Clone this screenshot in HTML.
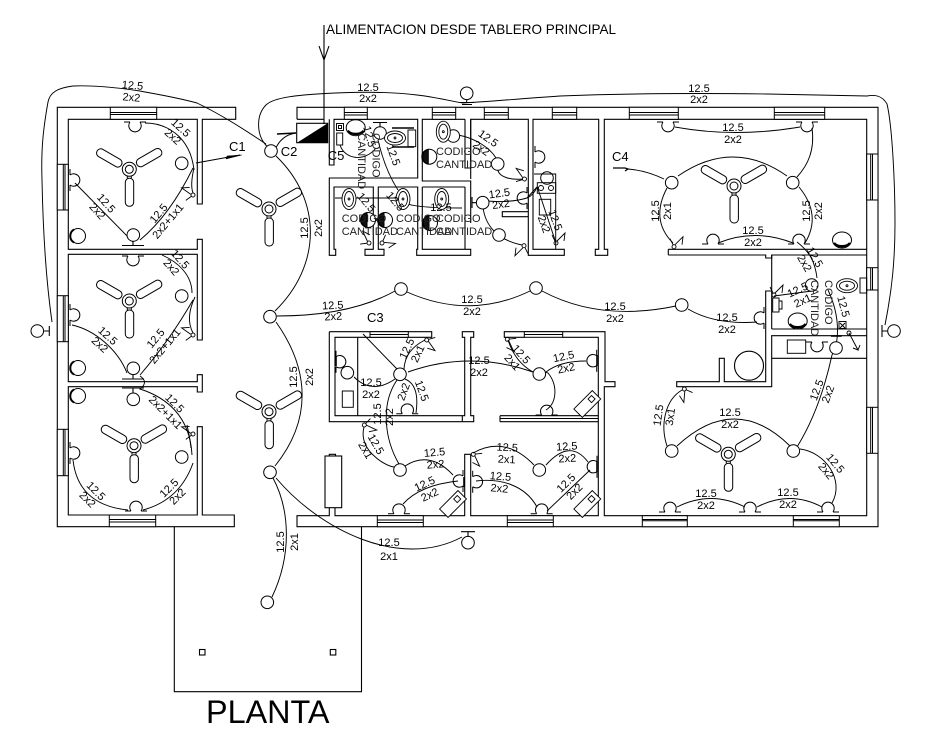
<!DOCTYPE html>
<html><head><meta charset="utf-8"><style>
html,body{margin:0;padding:0;background:#fff}
svg{display:block}
text{font-family:"Liberation Sans",sans-serif;fill:#000}
.l text{font-size:11px;text-anchor:middle}
.c{font-size:11px;fill:#222}
.w{fill:none;stroke:#000;stroke-width:1.1}
.n{fill:none;stroke:#000;stroke-width:.95}
</style></head><body>
<svg width="931" height="744" viewBox="0 0 931 744" xmlns="http://www.w3.org/2000/svg">
<defs>
<g id="fan" fill="#fff" stroke="#000" stroke-width="1">
<circle r="7"/><circle r="4"/>
<rect x="-4" y="9" width="8.4" height="28" rx="4"/><path d="M-2 7V9M2 7V9"/>
<g transform="rotate(120)"><rect x="-4" y="9" width="8.4" height="28" rx="4"/></g>
<g transform="rotate(-120)"><rect x="-4" y="9" width="8.4" height="28" rx="4"/></g>
</g>
<circle id="lamp" r="6.3" fill="#fff" stroke="#000" stroke-width="1"/>
<path id="out" d="M-11 0H-5M5 0H11M-5 0A6.2 6.2 0 1 0 5 0" fill="none" stroke="#000" stroke-width="1"/>
<g id="sw" fill="none" stroke="#000" stroke-width=".9"><circle r="2"/><path d="M1 -2L9 -10L8 -2M-1 -2L-4 -8"/></g>
<g id="tlt" fill="#fff" stroke="#000"><ellipse rx="9.5" ry="8"/><path d="M-8 3A9 6 0 0 0 8 3" stroke-width="2.4" fill="none"/></g>
<g id="blk" fill="#fff" stroke="#000"><circle r="7.5"/><path d="M-4 -6.5A7.5 7.5 0 0 0 -4 6.5" stroke-width="2" fill="none"/></g>
<g id="blk2" fill="#fff" stroke="#000"><circle r="7.5"/><path d="M-1 -7.3A7.5 7.5 0 0 0 -1 7.3Z" fill="#111"/></g>
<g id="wc" fill="#fff" stroke="#000" stroke-width=".9"><ellipse rx="7" ry="10.5"/><ellipse rx="4.5" ry="7.5"/><circle r="1"/></g>
<g id="app" fill="#fff" stroke="#000" stroke-width=".9"><rect x="-13" y="-6" width="26" height="12"/><rect x="4" y="-3" width="5" height="5"/></g>
</defs>

<text x="326" y="34" font-size="13.6" textLength="290" lengthAdjust="spacingAndGlyphs" fill="#222">ALIMENTACION DESDE TABLERO PRINCIPAL</text>
<path class="w" d="M324 25V124M319 46L324 60L329 46"/>

<!-- left block walls -->
<path class="w" d="M57.3 107.3H235.7V119.3H202.3V204H197.3V119.3H68.3V249.3H197.3V239.3H202.3V340H197.3V254.3H68.3V381.7H197.3V374.7H202.3V392H197.3V386.7H68.3V515H197.3V426.7H202.3V515H234.3V526.7H57.3Z"/>
<!-- right block walls -->
<path class="w" d="M297 119.3V107.3H878V526.7H297V515.7H329.3V507.7M335 507.7V515.7H464.7V454.3H470.7V515.7H598.3V337.3H562.7M524.3 337.3H504.3V331.7H605V381.7H615V386.7H604.3V515.7H866.7V119.3H604.3V249.3H607.7V255.3H595.3V249.3H598.7V119.3H533V249.3H564.3V255.3H528.3V119.3H470.7V179M465 119.3H422.3V181H470.7V223M465 187V240M422.3 187H465M422.3 187V249.3H465V240M465 249.3H470.7V255.3H416.7V249.3H417.7V187H378.3V249.3H384V255.3H365V249.3H373.3V187H334V249.3H335.7V255.3H329.3V178H417.7V119.3H334V165H329.3V119.3M297 119.3H324M502.3 211.7H528.3V216.7H502.3Z"/>
<path class="w" d="M470.7 119.3V168H465V119.3"/>
<!-- big room partition -->
<path class="w" d="M668.3 249.3H866.7M668.3 255H765.7V258H771.7V255H866.7M668.3 249.3V255"/>
<path class="w" d="M771.7 255V291H765.7V381.7H724.3V358.3H719.3V381.7H676.7V386.7H771.7V335.7H866.7M771.7 329H866.7M771.7 358.3H866.7M771.7 291V329"/>
<!-- C3 room -->
<path class="w" d="M329.3 331.7H431.7V337.3H335V415.7H464.7V337.3H462.3V331.7H473.7V337.3H470.7V415.7H473.7V421.7H462.3V415.7M462.3 421.7H329.3V331.7M357.7 337.3V415.7"/>
<path class="w" d="M500 415.7H598.3M500 418.5H598.3M500 421.7H598.3M500 415.7V421.7"/>
<!-- planta rect -->
<path class="w" d="M174.3 526.7V691.7H361.5V526.7"/>
<rect class="w" x="199.5" y="649.5" width="5.5" height="5.5"/><rect class="w" x="330.3" y="649.5" width="5.5" height="5.5"/>
<!-- appliance -->
<rect class="w" x="325" y="456" width="16.7" height="51.7"/><path class="w" d="M329.3 456V454.3H335.5V456"/>

<!-- windows -->
<g fill="#fff" stroke="#000" stroke-width="1">
<g><rect x="110.3" y="107.3" width="46.4" height="12"/><path d="M110.3 112.5H156.7M110.3 114.5H156.7"/></g>
<rect x="344.3" y="107.3" width="23" height="12"/><path d="M344.3 112.5H367.3M344.3 115H367.3"/>
<rect x="432.3" y="107.3" width="23.4" height="12"/><path d="M432.3 112.5H455.7M432.3 115H455.7"/>
<rect x="484.3" y="107.3" width="24" height="12"/><path d="M484.3 112.5H508.3M484.3 115H508.3"/>
<rect x="552.3" y="107.3" width="24.4" height="12"/><path d="M552.3 112.5H576.7M552.3 115H576.7"/>
<rect x="629.3" y="107.3" width="49" height="12"/><path d="M629.3 112.5H678.3M629.3 115H678.3"/>
<rect x="774.3" y="107.3" width="50.4" height="12"/><path d="M774.3 112.5H824.7M774.3 115H824.7"/>
<rect x="57.3" y="164.3" width="11" height="45.7"/><path d="M63.3 164.3V210M65 164.3V210"/>
<rect x="57.3" y="295.7" width="11" height="46"/><path d="M63.3 295.7V341.7M65 295.7V341.7"/>
<rect x="57.3" y="429.3" width="11" height="46.4"/><path d="M63.3 429.3V475.7M65 429.3V475.7"/>
<rect x="109.3" y="515" width="46.4" height="11.7"/><path d="M109.3 519.5H155.7M109.3 522H155.7"/>
<rect x="377.3" y="515.7" width="46" height="11"/><path d="M377.3 520H423.3M377.3 522.5H423.3"/>
<rect x="507.3" y="515.7" width="46" height="11"/><path d="M507.3 520H553.3M507.3 522.5H553.3"/>
<rect x="642.3" y="515.7" width="45" height="11"/><path d="M642.3 519.5H687.3M642.3 520.8H687.3"/>
<rect x="793.3" y="515.7" width="46" height="11"/><path d="M793.3 519.5H839.3M793.3 520.8H839.3"/>
<rect x="866.7" y="154" width="11.3" height="46"/><path d="M870.7 154V200M872.5 154V200"/>
<rect x="866.7" y="267.7" width="11.3" height="22.3"/><path d="M870.7 267.7V290M872.5 267.7V290"/>
<rect x="866.7" y="407.3" width="11.3" height="46"/><path d="M870.7 407.3V453.3M872.5 407.3V453.3"/>
<rect x="370" y="331.7" width="38.3" height="5.6"/><path d="M370 334.5H408.3"/>
<rect x="524.3" y="331.7" width="38.4" height="5.6"/><path d="M524.3 334.5H562.7"/>
</g>

<!-- panel -->
<rect class="w" x="296.7" y="123.3" width="31" height="19.4"/>
<path d="M297 142.7L327.7 123.3V142.7Z" fill="#000"/>

<!-- wires -->
<g class="n">
<path d="M266.7 146C256 135 256 115 266 105 274 97 300 95 325 93.5 350 92 383 91 417 95 435 97 450 101 463 103 483 102 517 99 560 96 610 94 690 93 767 94L867 96C877 94 883 97 887 104 892 125 895 180 895 223 895 260 892 290 885 325"/>
<path d="M266 144C245 130 222 115 197 103 175 97 155 94 140 91 120 88 95 85 73 86 58 88 50 92 48 102 43 130 41 150 42 180 43 230 46 280 52 322"/>
<path d="M275 150C277 145 282 135 296 133"/><path d="M277 134L296 133" stroke-width="1.4"/>
<path d="M196 163L240 155"/>
<path d="M145 123C165 123 190 135 194 170"/><path d="M194 168Q190 185 193 193"/>
<path d="M75 183L133 242"/><path d="M140 240Q170 215 193 168"/>
<path d="M162 255C178 262 192 275 192 293"/><path d="M195 297Q185 318 193 333"/>
<path d="M72 325C95 330 118 350 127 373"/><path d="M140 375Q170 340 193 300"/>
<path d="M140 376Q149 382 140 389C165 397 190 415 192 455"/><path d="M187 425Q190 438 191 448"/>
<path d="M73 460Q78 505 128 510"/><path d="M143 510Q180 500 193 463"/>
<path d="M276 156C322 200 322 265 275 311"/>
<path d="M276 322C310 370 312 420 275 466"/>
<path d="M273 478C290 510 292 555 272 597"/>
<path d="M276 478C320 530 400 570 462 537"/>
<path d="M277 316Q350 316 395 291"/>
<path d="M407 292Q470 320 530 291"/>
<path d="M542 291Q600 322 676 306"/>
<path d="M688 309Q715 325 757 322"/>
<path d="M627 169Q645 170 664 179"/>
<path d="M678 176Q733 138 787 176"/>
<path d="M667 188Q650 220 673 243"/>
<path d="M799 187Q822 215 805 243"/>
<path d="M675 127Q735 138 800 127"/>
<path d="M812 128C815 150 808 165 797 177"/>
<path d="M718 243Q755 228 793 243"/>
<path d="M797 242C810 252 815 262 817 278"/>
<path d="M828 290C842 320 838 345 832 355Q820 410 797 447"/>
<path d="M774 296L812 291"/>
<path d="M667 446C660 425 665 400 682 390"/>
<path d="M677 446Q735 392 790 446"/>
<path d="M800 449C825 452 845 480 832 503"/>
<path d="M677 507Q711 490 745 507"/>
<path d="M757 507Q790 490 822 507"/>
<!-- C3 -->
<path d="M363 334L397 369"/>
<path d="M404 369Q405 350 425 340"/>
<path d="M405 379Q420 385 416 413"/>
<path d="M354 377Q372 395 395 379"/>
<path d="M397 380C380 405 385 440 399 464"/>
<path d="M408 372Q470 350 533 372"/>
<path d="M364 427C358 450 385 466 394 467"/>
<path d="M405 466Q430 450 453 475"/>
<path d="M403 504Q420 485 458 481"/>
<path d="M508 340Q515 362 533 372"/>
<path d="M546 372Q545 372 548 373C558 385 557 403 546 410"/>
<path d="M546 372Q560 361 586 361"/>
<path d="M473 453Q505 435 534 465"/>
<path d="M546 465Q570 438 588 462"/>
<path d="M476 481C500 478 525 485 537 507"/>
<path d="M547 511L590 470"/>
<!-- baths -->
<path d="M378 140Q385 170 398 190"/>
<path d="M335 198H396"/>
<path d="M405 203Q415 208 462 208"/>
<path d="M458 135C475 138 490 148 496 158"/>
<path d="M497.7 170C500 178 512 180 523 179"/>
<path d="M487 201Q510 203 527 198C532 196 535 192 537 187"/>
<path d="M483 207C485 225 497 240 522 245"/>
<path d="M537.3 187L556 243"/>
<path d="M527 198L537 187"/>
</g>

<!-- C labels and arrows -->
<text x="229" y="151" font-size="13">C1</text>
<text x="280.7" y="156" font-size="13">C2</text>
<text x="327.7" y="160" font-size="13">C5</text>
<text x="612" y="161" font-size="13">C4</text>
<text x="367" y="322" font-size="13">C3</text>
<path d="M226 159L241.7 155L227 156Z" fill="#000" stroke="#000" stroke-width=".5"/>
<path d="M613 168H625L628 169L625 171" fill="none" stroke="#000" stroke-width="1.3"/>

<!-- fans -->
<use href="#fan" transform="translate(129.3 169.3)"/>
<use href="#fan" transform="translate(129.3 301)"/>
<use href="#fan" transform="translate(134 445.7)"/>
<use href="#fan" transform="translate(269 209)"/>
<use href="#fan" transform="translate(269 411.7)"/>
<use href="#fan" transform="translate(734 186)"/>
<use href="#fan" transform="translate(728.3 454.3)"/>

<!-- lamps -->
<g>
<use href="#lamp" x="181.7" y="163.3"/><use href="#lamp" x="133.3" y="235"/><use href="#lamp" x="181.7" y="296"/><use href="#lamp" x="133.3" y="368.3"/><use href="#lamp" x="181.7" y="457"/><use href="#lamp" x="133.3" y="399.3"/>
<use href="#lamp" x="271" y="151"/><use href="#lamp" x="270" y="316.7"/><use href="#lamp" x="270" y="472.3"/><use href="#lamp" x="267.3" y="602.3"/>
<use href="#lamp" x="401" y="289"/><use href="#lamp" x="536" y="288"/><use href="#lamp" x="681.7" y="305"/>
<use href="#lamp" x="671.7" y="182.7"/><use href="#lamp" x="792.7" y="182.7"/><use href="#lamp" x="671.7" y="451"/><use href="#lamp" x="793.3" y="451"/>
<use href="#lamp" x="400" y="374.3"/><use href="#lamp" x="347.3" y="372.7"/><use href="#lamp" x="400" y="470"/><use href="#lamp" x="539.3" y="374"/><use href="#lamp" x="539.3" y="470"/>
<use href="#lamp" x="37.3" y="331"/><use href="#lamp" x="894" y="331"/><use href="#lamp" x="468" y="542.7"/><use href="#lamp" x="466.7" y="93.3"/>
<use href="#lamp" x="453.3" y="136"/><use href="#lamp" x="497.7" y="164"/><use href="#lamp" x="482.7" y="202.7"/><use href="#lamp" x="499" y="235"/>
<use href="#lamp" x="547" y="178"/><use href="#lamp" x="380" y="133"/><use href="#lamp" x="811.7" y="285"/><use href="#lamp" x="836" y="348"/>
</g>
<g class="w">
<path d="M133 241.5V245.5M122 245.5H144"/>
<path d="M133 374.8V379M122 379H144"/>
<path d="M133 392.8V388M122 388H144"/>
<path d="M43.8 331H49.3M49.3 326V336"/>
<path d="M887.5 331H882M882 325V337"/>
<path d="M468 536V531.7M461 531.7H475"/>
<path d="M466.7 99.8V102.5M460 102.5H474M462 104.5H472" stroke-width="1"/>
<path d="M380 126.5V122.5M373 122.5H387"/>
<path d="M476.2 202.7H472M472 197V208"/>
<path d="M597 461V472M597 355V366" stroke-width="1.6"/>
<path d="M336 356V366M464 477V487" stroke-width="1.6"/>
</g>

<!-- outlets -->
<g>
<use href="#out" transform="translate(135 122)"/>
<use href="#out" transform="translate(70 180) rotate(-90)"/>
<use href="#out" transform="translate(133 256)"/>
<use href="#out" transform="translate(70 315) rotate(-90)"/>
<use href="#out" transform="translate(70 453) rotate(-90)"/>
<use href="#out" transform="translate(136 511) rotate(180)"/>
<use href="#out" transform="translate(668 122)"/>
<use href="#out" transform="translate(807 122)"/>
<use href="#out" transform="translate(713 244) rotate(180)"/>
<use href="#out" transform="translate(799 244) rotate(180)"/>
<use href="#out" transform="translate(764 318) rotate(90)"/>
<use href="#out" transform="translate(670 512) rotate(180)"/>
<use href="#out" transform="translate(750 512) rotate(180)"/>
<use href="#out" transform="translate(828 512) rotate(180)"/>
<use href="#out" transform="translate(336 361.7) rotate(-90)"/>
<use href="#out" transform="translate(407.3 413.7) rotate(180)"/>
<use href="#out" transform="translate(399 513.7) rotate(180)"/>
<use href="#out" transform="translate(541.7 513.7) rotate(180)"/>
<use href="#out" transform="translate(546.7 415) rotate(180)"/>
<use href="#out" transform="translate(596.7 360.7) rotate(90)"/>
<use href="#out" transform="translate(472.7 481.7) rotate(-90)"/>
<use href="#out" transform="translate(463 481) rotate(90)"/>
<use href="#out" transform="translate(597 466.7) rotate(90)"/>
<use href="#out" transform="translate(527 198) rotate(90)"/>
<use href="#out" transform="translate(535 157) rotate(-90)"/>
<use href="#out" transform="translate(817 342)"/>
</g>

<!-- switches -->
<g>
<use href="#sw" transform="translate(193 195) rotate(-100)"/>
<use href="#sw" transform="translate(193 335) rotate(-100)"/>
<use href="#sw" transform="translate(193 434) rotate(-100)"/>
<use href="#sw" transform="translate(674 246.7)"/>
<use href="#sw" transform="translate(684.3 389) rotate(140)"/>
<use href="#sw" transform="translate(426.7 340) rotate(100)"/>
<use href="#sw" transform="translate(364.3 425) rotate(70)"/>
<use href="#sw" transform="translate(507.3 339.3) rotate(110)"/>
<use href="#sw" transform="translate(473.3 454.3) rotate(110)"/>
<use href="#sw" transform="translate(774 295)"/>
<use href="#sw" transform="translate(524.5 179) rotate(-80)"/>
<use href="#sw" transform="translate(524 245.7) rotate(180)"/>
<use href="#sw" transform="translate(369 243) rotate(-70)"/>
<use href="#sw" transform="translate(382 243) rotate(50)"/>
<use href="#sw" transform="translate(556 243)"/>
<path class="n" d="M849 333L858 350L853 348M858 350L860 345"/>
<circle class="n" cx="849" cy="333" r="2"/>
</g>

<!-- appliances -->
<use href="#app" transform="translate(453 504) rotate(-45)"/>
<use href="#app" transform="translate(587.3 404) rotate(-45)"/>
<use href="#app" transform="translate(587.3 504) rotate(-45)"/>

<circle class="w" cx="749" cy="365.7" r="14.5"/>

<!-- sanitary -->
<use href="#blk" transform="translate(78 236)"/>
<use href="#blk" transform="translate(78 368)"/>
<use href="#blk" transform="translate(78 396)"/>
<use href="#tlt" transform="translate(842 240)"/>
<use href="#tlt" transform="translate(797.7 321)"/>
<use href="#blk2" transform="translate(429.3 156.7)"/>
<use href="#blk2" transform="translate(368 220)"/>
<use href="#blk2" transform="translate(385 220)"/>
<use href="#blk2" transform="translate(430 223)"/>
<use href="#wc" transform="translate(349 199)"/>
<use href="#wc" transform="translate(403 199)"/>
<use href="#wc" transform="translate(441.7 199)"/>
<use href="#wc" transform="translate(443.3 131.7)"/>
<use href="#wc" transform="translate(847 285.7) rotate(90)"/>
<use href="#wc" transform="translate(395 138) rotate(90)"/>
<use href="#tlt" transform="translate(355.7 127.7)"/>
<g class="n">
<rect x="860" y="278" width="6.7" height="15"/>
<rect x="772.7" y="298" width="6.3" height="14"/><path d="M779 301H782V309H779"/>
<rect x="839" y="321.5" width="7" height="7"/><path d="M840 323L845 328M845 323L840 328"/>
<rect x="336.5" y="123.5" width="7" height="7"/><rect x="338.5" y="125.5" width="3" height="3"/>
<rect x="336.7" y="133" width="6" height="12"/>
<path d="M340 145C345 160 365 162 376 148"/>
<rect x="408" y="130" width="7.7" height="16.7"/>
<path d="M392 128H414M392 147H414" stroke-width="1.5"/>
<path d="M831 336H841.7" stroke-width="1.6"/>
<rect x="787.3" y="340" width="18.4" height="13.3"/>
<path d="M534 174H555.7V249.3"/>
<rect x="537.3" y="182.7" width="18.4" height="10.6"/>
<circle cx="541" cy="188" r="2.5"/><circle cx="551" cy="188" r="2.5"/>
<rect x="539.3" y="199.3" width="11.4" height="15.7"/>
<rect x="342.3" y="391" width="11" height="16.3"/>
</g>

<!-- wire labels -->
<g class="l">
<g transform="translate(132 91) rotate(5)"><text y="-2">12.5</text><text y="10">2x2</text></g>
<g transform="translate(368 92)"><text y="-1">12.5</text><text y="10">2x2</text></g>
<g transform="translate(699 93)"><text y="-1">12.5</text><text y="10">2x2</text></g>
<g transform="translate(177 132) rotate(42)"><text y="-2">12.5</text><text y="10">2x2</text></g>
<g transform="translate(102 207) rotate(48)"><text y="-2">12.5</text><text y="10">2x2</text></g>
<g transform="translate(163 217) rotate(-50)"><text y="-2">12.5</text><text y="10">2x2+1x1</text></g>
<g transform="translate(176 263) rotate(48)"><text y="-2">12.5</text><text y="10">2x2</text></g>
<g transform="translate(104 340) rotate(42)"><text y="-2">12.5</text><text y="10">2x2</text></g>
<g transform="translate(160 342) rotate(-50)"><text y="-2">12.5</text><text y="10">2x2+1x1</text></g>
<g transform="translate(170 408) rotate(45)"><text y="-3">12.5</text><text y="10">2x2+1x1</text></g>
<g transform="translate(92 495) rotate(45)"><text y="-2">12.5</text><text y="10">2x2</text></g>
<g transform="translate(173 492) rotate(-45)"><text y="-2">12.5</text><text y="10">2x2</text></g>
<g transform="translate(311 228) rotate(-90)"><text y="-3">12.5</text><text y="11">2x2</text></g>
<g transform="translate(302 377) rotate(-90)"><text y="-5">12.5</text><text y="11">2x2</text></g>
<g transform="translate(287 542) rotate(-90)"><text y="-3">12.5</text><text y="11">2x1</text></g>
<g transform="translate(389 546)"><text y="0">12.5</text><text y="14">2x1</text></g>
<g transform="translate(333 310) rotate(-3)"><text y="-1">12.5</text><text y="10">2x2</text></g>
<g transform="translate(472 304)"><text y="-1">12.5</text><text y="11">2x2</text></g>
<g transform="translate(615 311)"><text y="-1">12.5</text><text y="11">2x2</text></g>
<g transform="translate(727 322)"><text y="-1">12.5</text><text y="11">2x2</text></g>
<g transform="translate(733 133)"><text y="-2">12.5</text><text y="10">2x2</text></g>
<g transform="translate(661 211) rotate(-90)"><text y="-2">12.5</text><text y="10">2x1</text></g>
<g transform="translate(812 211) rotate(-90)"><text y="-2">12.5</text><text y="10">2x2</text></g>
<g transform="translate(753 236)"><text y="-2">12.5</text><text y="10">2x2</text></g>
<g transform="translate(810 260) rotate(60)"><text y="-2">12.5</text><text y="10">2x2</text></g>
<g transform="translate(800 295) rotate(-25)"><text y="-2">12.5</text><text y="10">2x1</text></g>
<g transform="translate(838 308) rotate(75)"><text y="-2">12.5</text></g>
<g transform="translate(822 392) rotate(-70)"><text y="-2">12.5</text><text y="10">2x2</text></g>
<g transform="translate(664 416) rotate(-82)"><text y="-2">12.5</text><text y="10">3x1</text></g>
<g transform="translate(730 418)"><text y="-2">12.5</text><text y="10">2x2</text></g>
<g transform="translate(831 467) rotate(50)"><text y="-2">12.5</text><text y="10">2x2</text></g>
<g transform="translate(706 499)"><text y="-2">12.5</text><text y="10">2x2</text></g>
<g transform="translate(788 498)"><text y="-2">12.5</text><text y="10">2x2</text></g>
<g transform="translate(371 388)"><text y="-2">12.5</text><text y="10">2x2</text></g>
<g transform="translate(412 351) rotate(-65)"><text y="-2">12.5</text><text y="10">2x1</text></g>
<g transform="translate(410 395) rotate(70)"><text y="-9">12.5</text></g>
<g transform="translate(407 393) rotate(-70)"><text y="0">2x2</text></g>
<g transform="translate(381 414) rotate(-90)"><text y="0">12.5</text></g>
<g transform="translate(393 417) rotate(-90)"><text y="0">2x2</text></g>
<g transform="translate(371 447) rotate(60)"><text y="-2">12.5</text><text y="10">2x1</text></g>
<g transform="translate(435 458) rotate(-5)"><text y="-2">12.5</text><text y="10">2x2</text></g>
<g transform="translate(427 489) rotate(-25)"><text y="-2">12.5</text><text y="10">2x2</text></g>
<g transform="translate(479 365)"><text y="-1">12.5</text><text y="11">2x2</text></g>
<g transform="translate(517 358) rotate(48)"><text y="-2">12.5</text><text y="10">2x1</text></g>
<g transform="translate(565 363) rotate(-12)"><text y="-3">12.5</text><text y="9">2x2</text></g>
<g transform="translate(507 453) rotate(3)"><text y="-2">12.5</text><text y="10">2x1</text></g>
<g transform="translate(567 452) rotate(-3)"><text y="-2">12.5</text><text y="10">2x2</text></g>
<g transform="translate(500 482) rotate(5)"><text y="-2">12.5</text><text y="10">2x2</text></g>
<g transform="translate(570 487) rotate(-45)"><text y="-2">12.5</text><text y="10">2x2</text></g>
<g transform="translate(485 143) rotate(35)"><text y="-2">12.5</text><text y="10">2x2</text></g>
<g transform="translate(500 198) rotate(-8)"><text y="-1">12.5</text><text y="10">2x2</text></g>
<g transform="translate(550 222) rotate(70)"><text y="-2">12.5</text><text y="10">2x2</text></g>
<g transform="translate(388 157) rotate(70)"><text y="-2">12.5</text></g>
<g transform="translate(364 138) rotate(75)"><text y="-2">12.5</text></g>
<g transform="translate(362 206) rotate(50)"><text y="-2">12.5</text></g>
<g transform="translate(391 205) rotate(50)"><text y="-2">12.5</text></g>
<g transform="translate(441 213)"><text y="-2">12.5</text></g>
</g>

<!-- code labels -->
<text class="c" x="436" y="155">CODIGO</text><text class="c" x="436" y="168">CANTIDAD</text>
<text class="c" x="341.7" y="222">CODIGO</text><text class="c" x="341.7" y="235">CANTIDAD</text>
<text class="c" x="396" y="222">CODIGO</text><text class="c" x="396" y="235">CANTIDAD</text>
<text class="c" x="436" y="222">CODIGO</text><text class="c" x="436" y="235">CANTIDAD</text>
<text class="c" transform="translate(372.7 133) rotate(90)">CODIGO</text>
<text class="c" transform="translate(358 133) rotate(90)">CANTIDAD</text>
<text class="c" transform="translate(825 280) rotate(90)">CODIGO</text>
<text class="c" transform="translate(811 280) rotate(90)">CANTIDAD</text>

<text x="206" y="723" font-size="32" textLength="123.5" lengthAdjust="spacingAndGlyphs" fill="#111">PLANTA</text>
</svg>
</body></html>
